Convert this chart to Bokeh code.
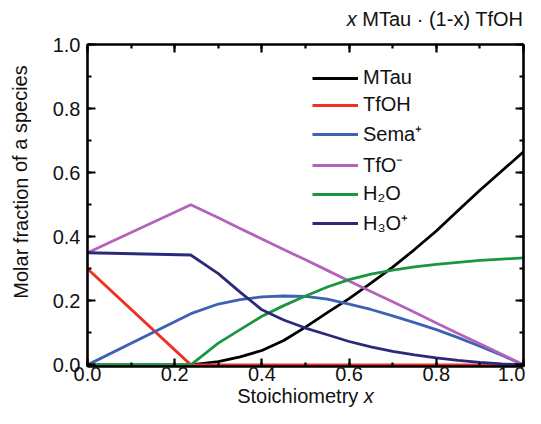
from bokeh.plotting import figure
from bokeh.models import (Legend, LegendItem, Label, LinearAxis, Range1d,
                          SingleIntervalTicker, PrintfTickFormatter,
                          CustomJSTickFormatter)
from bokeh.embed import file_html
from bokeh.resources import INLINE

# ---- data ----
x_stoich = [0.0, 0.237, 0.3, 0.35, 0.4, 0.45, 0.5, 0.55, 0.6, 0.65, 0.7, 0.75,
            0.8, 0.85, 0.9, 0.95, 1.0]
mtau = [0.0, 0.0, 0.01, 0.025, 0.045, 0.076, 0.118, 0.163, 0.207, 0.255, 0.305,
        0.36, 0.418, 0.482, 0.545, 0.605, 0.665]
tfoh = [0.30, 0.0, 0.0, 0.0, 0.0, 0.0, 0.0, 0.0, 0.0, 0.0, 0.0, 0.0, 0.0, 0.0,
        0.0, 0.0, 0.0]
sema = [0.0, 0.16, 0.19, 0.204, 0.212, 0.215, 0.214, 0.205, 0.19, 0.173, 0.153,
        0.132, 0.11, 0.085, 0.058, 0.03, 0.0]
tfo = [0.35, 0.50, 0.459, 0.426, 0.393, 0.360, 0.328, 0.295, 0.262, 0.229, 0.197,
       0.164, 0.131, 0.098, 0.066, 0.033, 0.0]
h2o = [0.0, 0.0, 0.068, 0.11, 0.152, 0.185, 0.215, 0.243, 0.266, 0.283, 0.296,
       0.306, 0.314, 0.32, 0.326, 0.33, 0.334]
h3o = [0.35, 0.343, 0.285, 0.227, 0.172, 0.14, 0.115, 0.094, 0.073, 0.056, 0.042,
       0.031, 0.022, 0.014, 0.008, 0.003, 0.0]

series_names = ["MTau", "TfOH", "Sema\u207a", "TfO\u207b", "H\u2082O", "H\u2083O\u207a"]
series_values = [mtau, tfoh, sema, tfo, h2o, h3o]
series_colors = ["#000000", "#ee3124", "#3d62b3", "#b563ba", "#1a9641", "#2b2a7a"]

FONT = "Liberation Sans"
FS = 20
FRAME_W = 436.0   # px, frame 87..523
FRAME_H = 322.0   # px, frame 44..366
Y0 = -0.005       # tiny margin so lines lying on y = 0 stay visible above the axis

p = figure(width=525, height=408, output_backend="svg", toolbar_location=None,
           x_range=Range1d(0, 1), y_range=Range1d(Y0, 1),
           min_border_left=87, min_border_right=2, min_border_top=44,
           min_border_bottom=42)
p.outline_line_color = None
p.grid.visible = False
p.background_fill_color = "white"
p.border_fill_color = "white"

renderers = []
for vals, col in zip(series_values, series_colors):
    r = p.line(x_stoich, vals, line_color=col, line_width=2.8)
    renderers.append(r)

def style_axis(ax, labels=True):
    ax.ticker = SingleIntervalTicker(interval=0.2, num_minor_ticks=2)
    ax.axis_line_width = 2.6
    ax.axis_line_color = "black"
    ax.major_tick_in = 8
    ax.major_tick_out = 0
    ax.minor_tick_in = 4
    ax.minor_tick_out = 0
    ax.major_tick_line_width = 2.2
    ax.minor_tick_line_width = 2.2
    ax.major_tick_line_color = "black"
    ax.minor_tick_line_color = "black"
    ax.major_label_text_font = FONT
    ax.axis_label = None
    if labels:
        ax.formatter = PrintfTickFormatter(format="%.1f")
        ax.major_label_text_font_size = f"{FS}px"
        ax.major_label_text_color = "#111111"
    else:
        ax.formatter = CustomJSTickFormatter(code="return ''")
        ax.major_label_text_font_size = "1px"
        ax.major_label_standoff = 0

style_axis(p.xaxis[0])
style_axis(p.yaxis[0])
p.xaxis[0].major_label_standoff = 0
p.yaxis[0].major_label_standoff = 7

top_ax = LinearAxis()
right_ax = LinearAxis()
style_axis(top_ax, labels=False)
style_axis(right_ax, labels=False)
p.add_layout(top_ax, "above")
p.add_layout(right_ax, "right")

legend = Legend(items=[LegendItem(label=n, renderers=[r])
                       for n, r in zip(series_names, renderers)],
                location=(225, 130), orientation="vertical",
                label_text_font=FONT, label_text_font_size=f"{FS}px",
                label_text_color="#111111",
                glyph_width=46, glyph_height=20, label_height=20,
                label_standoff=5, spacing=4, padding=0, margin=0,
                border_line_color=None, background_fill_alpha=0)
p.add_layout(legend, "center")

# widths (em) of Arial / Liberation Sans glyphs, to place mixed-style texts
W = {" ": .278, "M": .833, "T": .611, "a": .556, "u": .556, "\u00b7": .278,
     "(": .333, "1": .556, "-": .333, "x": .5, ")": .333, "f": .278, "O": .778,
     "H": .722, "S": .667, "t": .278, "o": .556, "i": .222, "c": .5, "h": .556,
     "m": .833, "e": .556, "r": .333, "y": .5}

def tw(s):
    return sum(W[c] for c in s) * FS

def lab(side, px, py, text, italic=False, align="left", angle=0.0):
    # px, py: pixel offsets from the frame's lower-left corner
    p.add_layout(Label(x=px / FRAME_W, y=Y0 + py / FRAME_H * (1 - Y0), text=text,
                       text_font=FONT, text_font_size=f"{FS}px",
                       text_font_style="italic" if italic else "normal",
                       text_color="#111111", text_align=align,
                       text_baseline="alphabetic", angle=angle,
                       text_line_height=1.0), side)

# y axis label
lab("left", -67, 184.5, "Molar fraction of a species", align="center", angle=1.5708)

# x axis label: "Stoichiometry x"
x0 = FRAME_W / 2 - tw("Stoichiometry x") / 2
lab("above", x0, -29, "Stoichiometry")
lab("left", x0 + tw("Stoichiometry "), -29, "x", italic=True)

# title: "x MTau · (1-x) TfOH"
main_t = "MTau \u00b7 (1-x) TfOH"
t_start = 437 - tw(main_t)
lab("above", t_start, 348, main_t)
lab("left", t_start - tw("x "), 348, "x", italic=True)

open("out.html", "w").write(file_html(p, INLINE))
